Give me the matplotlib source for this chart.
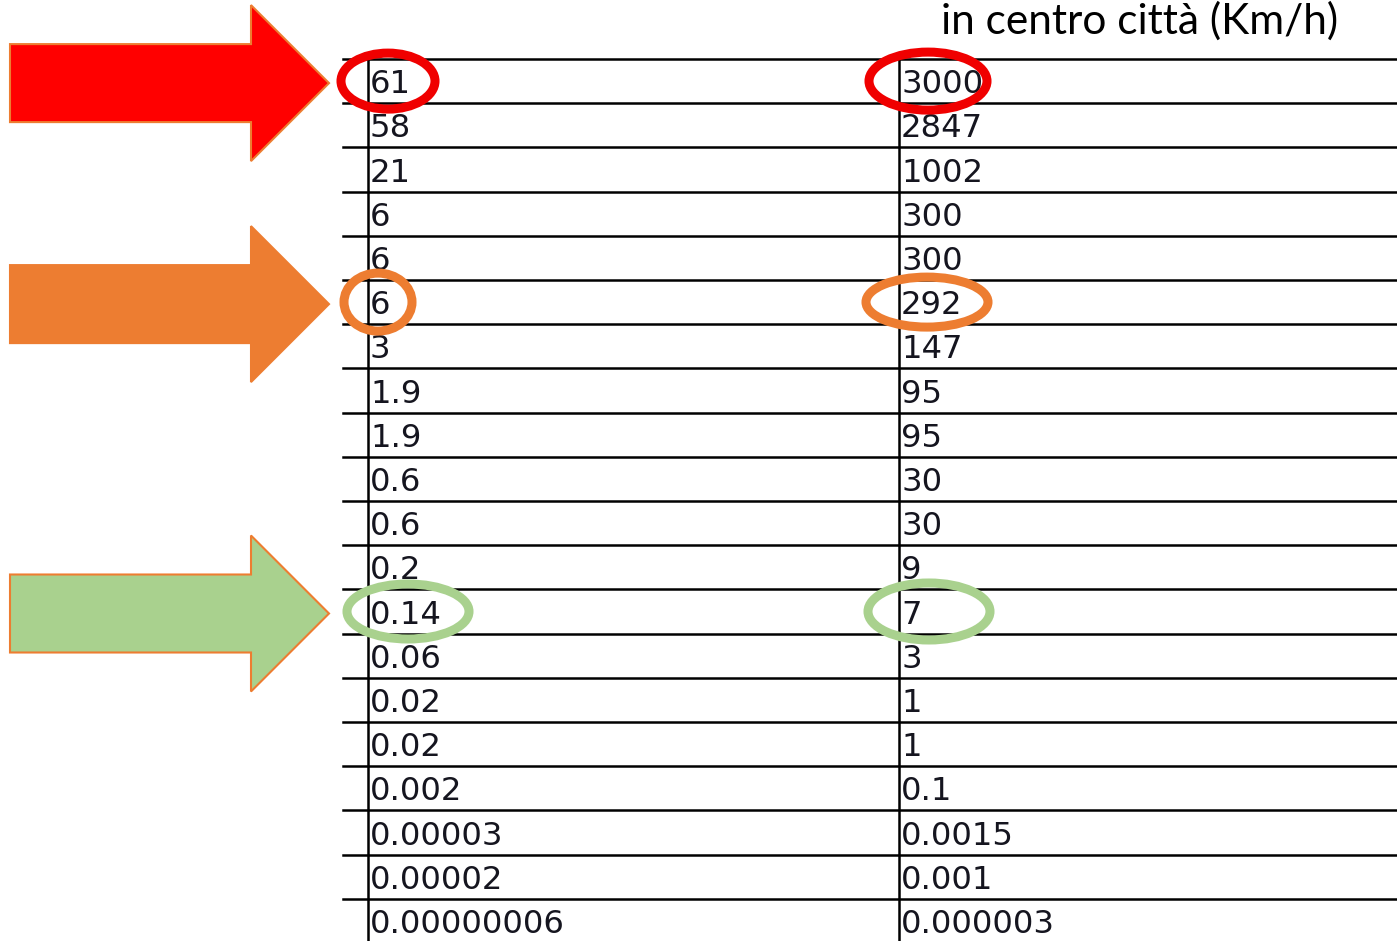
import matplotlib.pyplot as plt
from matplotlib.patches import Polygon, Ellipse

# table values as shown (left column, right column)
col_left = ['61', '58', '21', '6', '6', '6', '3', '1.9', '1.9', '0.6', '0.6', '0.2',
            '0.14', '0.06', '0.02', '0.02', '0.002', '0.00003', '0.00002', '0.00000006']
col_right = ['3000', '2847', '1002', '300', '300', '292', '147', '95', '95', '30', '30', '9',
             '7', '3', '1', '1', '0.1', '0.0015', '0.001', '0.000003']
header = 'in centro città (Km/h)'

# highlighted rows: (row index, arrow fill, arrow edge, circle colour)
highlights = [(0, '#FF0000', '#ED7D31', '#F00000'),
              (5, '#ED7D31', '#ED7D31', '#ED7D31'),
              (12, '#A9D18E', '#ED7D31', '#A9D18E')]

W, H = 1397, 941
row_top = 59
row_h = 44.2
x_left, x_col1, x_col2 = 343, 368, 899
text_col = '#15151f'


def row_center(i):
  return row_top + row_h * i + row_h / 2


def draw_arrow(ax, yc, fill, edge):
  x0, xb, xt = 10, 251, 329
  bh, hh = 39, 78
  pts = [(x0, yc - bh), (xb, yc - bh), (xb, yc - hh), (xt, yc),
         (xb, yc + hh), (xb, yc + bh), (x0, yc + bh)]
  ax.add_patch(Polygon(pts, closed=True, facecolor=fill, edgecolor=edge, linewidth=1.5, zorder=3))


def main():
  fig = plt.figure(figsize=(W / 100, H / 100), dpi=100)
  ax = fig.add_axes([0, 0, 1, 1])
  ax.set_xlim(0, W)
  ax.set_ylim(H, 0)
  ax.axis('off')

  # grid lines
  for i in range(len(col_left)):
    y = row_top + row_h * i
    ax.plot([x_left, W], [y, y], color='black', linewidth=1.8, zorder=1)
  for x in (x_col1, x_col2):
    ax.plot([x, x], [row_top - 6, H], color='black', linewidth=1.8, zorder=1)

  # cell text
  for i, (a, b) in enumerate(zip(col_left, col_right)):
    yb = row_center(i) + 12
    ax.text(x_col1 + 2, yb, a, fontsize=23.2, color=text_col, family='DejaVu Sans', va='baseline', ha='left', zorder=2)
    ax.text(x_col2 + 2, yb, b, fontsize=23.2, color=text_col, family='DejaVu Sans', va='baseline', ha='left', zorder=2)

  ax.text(1140, 21, header, fontsize=30.5, color='black', family='Lato', ha='center', va='center')

  # arrows and circles
  circle_sizes = {0: ((388, 94, 56), (928, 118, 58)),
                  5: ((378, 68, 58), (927, 122, 50)),
                  12: ((408, 122, 55), (929, 122, 57))}
  for idx, fill, edge, ring in highlights:
    yc = row_center(idx)
    draw_arrow(ax, yc + 2, fill, edge)
    for cx, w, h in circle_sizes[idx]:
      ax.add_patch(Ellipse((cx, yc), w, h, fill=False, edgecolor=ring, linewidth=6.5, zorder=4))

  fig.savefig('out.png', dpi=100)
  return 0


if __name__ == '__main__':
  main()
